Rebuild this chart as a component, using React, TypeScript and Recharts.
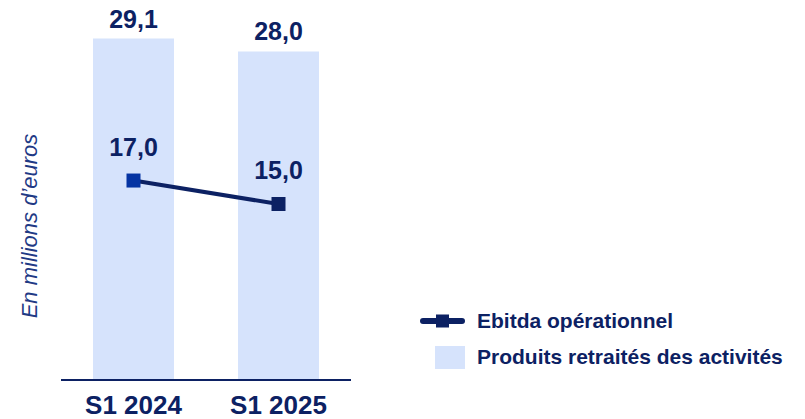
import { ComposedChart, Bar, Line, XAxis, YAxis, LabelList } from "recharts"

const periods = ["S1 2024", "S1 2025"]
const produitsRetraites = [29.1, 28.0]
const ebitdaOperationnel = [17.0, 15.0]
const seriesNames = ["Ebitda opérationnel", "Produits retraités des activités"]

const data = periods.map((p, i) => ({
  period: p,
  produits: produitsRetraites[i],
  ebitda: ebitdaOperationnel[i],
}))

const NAVY = "#0c2163"
const BAR = "#d6e3fc"
const FONT = "'Liberation Sans', Arial, sans-serif"

const fmt = (v: any) => Number(v).toFixed(1).replace(".", ",")

const SquareDot = (props: any) => {
  const { cx, cy, index } = props
  if (cx == null || cy == null) return null
  const s = 14
  return (
    <rect
      x={cx - s / 2}
      y={cy - s / 2}
      width={s}
      height={s}
      fill={index === 0 ? "#0534a3" : NAVY}
    />
  )
}

const PeriodTick = (props: any) => {
  const { x, y, payload } = props
  return (
    <text x={x} y={y} dy={26} textAnchor="middle" fill={NAVY} fontSize={26} fontWeight={700} fontFamily={FONT}>
      {payload.value}
    </text>
  )
}

const UnitLabel = (props: any) => {
  const { viewBox } = props
  const cx = viewBox.x + 37
  const cy = viewBox.y + viewBox.height / 2 + 22
  return (
    <text
      x={cx}
      y={cy}
      transform={`rotate(-90 ${cx} ${cy})`}
      textAnchor="middle"
      fill="#1f3a85"
      fontSize={22}
      fontStyle="italic"
      fontFamily={FONT}
    >
      En millions d’euros
    </text>
  )
}

const LegendBox = () => (
  <div style={{ position: "absolute", left: 420, top: 308, fontFamily: FONT, color: NAVY, fontWeight: 700, fontSize: 21 }}>
    <div style={{ display: "flex", alignItems: "center", height: 26 }}>
      <svg width={57} height={16} style={{ flex: "none" }}>
        <line x1={3} y1={8} x2={42} y2={8} stroke={NAVY} strokeWidth={6} strokeLinecap="round" />
        <rect x={16} y={1.5} width={13} height={13} fill={NAVY} />
      </svg>
      <span>{seriesNames[0]}</span>
    </div>
    <div style={{ display: "flex", alignItems: "center", height: 26, marginTop: 10 }}>
      <svg width={57} height={23} style={{ flex: "none" }}>
        <rect x={15} y={0} width={30} height={23} fill={BAR} />
      </svg>
      <span>{seriesNames[1]}</span>
    </div>
  </div>
)

export default function App() {
  return (
    <div style={{ position: "absolute", left: 0, top: 0, width: 805, height: 419, background: "#fff" }}>
      <ComposedChart width={805} height={419} data={data} margin={{ top: 28, right: 454, bottom: 0, left: 0 }}>
        <XAxis
          dataKey="period"
          height={39}
          axisLine={{ stroke: NAVY, strokeWidth: 2 }}
          tickLine={false}
          tick={<PeriodTick />}
          interval={0}
        />
        <YAxis domain={[0, 30]} width={61} axisLine={false} tickLine={false} tick={false} label={<UnitLabel />} />
        <Bar dataKey="produits" name={seriesNames[1]} fill={BAR} barSize={81} isAnimationActive={false}>
          <LabelList
            dataKey="produits"
            position="top"
            offset={11}
            formatter={fmt}
            fill={NAVY}
            fontSize={25}
            fontWeight={700}
            fontFamily={FONT}
          />
        </Bar>
        <Line
          dataKey="ebitda"
          name={seriesNames[0]}
          stroke={NAVY}
          strokeWidth={4}
          dot={<SquareDot />}
          activeDot={false}
          isAnimationActive={false}
        >
          <LabelList
            dataKey="ebitda"
            position="top"
            offset={25}
            formatter={fmt}
            fill={NAVY}
            fontSize={25}
            fontWeight={700}
            fontFamily={FONT}
          />
        </Line>
      </ComposedChart>
      <LegendBox />
    </div>
  )
}
